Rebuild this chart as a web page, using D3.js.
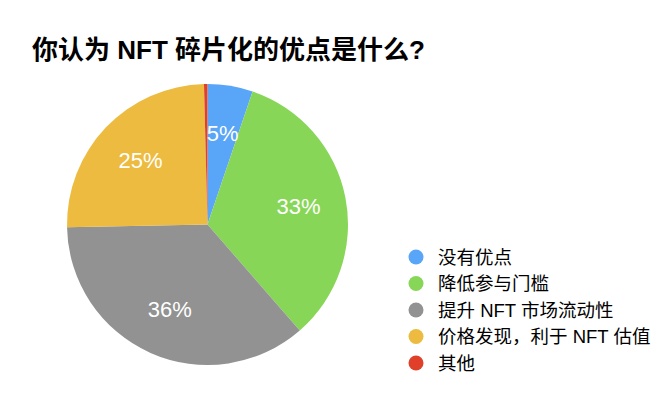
<!DOCTYPE html>
<html>
<head>
<meta charset="utf-8">
<script src="https://cdn.jsdelivr.net/npm/d3@7"></script>
<style>
  body { margin: 0; background: #fff; }
  svg { display: block; }
</style>
</head>
<body>
<div id="wrapper"></div>
<script>
const title = "你认为 NFT 碎片化的优点是什么?";
const categories = ["没有优点", "降低参与门槛", "提升 NFT 市场流动性", "价格发现，利于 NFT 估值", "其他"];
const values = [5.2, 33.4, 36.1, 24.9, 0.4];
const labels = ["5%", "33%", "36%", "25%", ""];
const colors = ["#59a5f7", "#88d658", "#929292", "#ecbb3f", "#e0402a"];

const width = 670;
const height = 412;
const font = "'Liberation Sans', Arial, 'Noto Sans CJK SC', sans-serif";

const svg = d3.select("#wrapper")
  .append("svg")
  .attr("width", width)
  .attr("height", height);

svg.append("text")
  .attr("x", 32)
  .attr("y", 59)
  .attr("font-family", font)
  .attr("font-size", 26)
  .attr("font-weight", "bold")
  .attr("fill", "#000")
  .text(title);

const cx = 207.5, cy = 224.5, radius = 140.5;

const pie = d3.pie().sort(null).value((d) => d.value);
const arcs = pie(categories.map((c, i) => ({ name: c, value: values[i], label: labels[i], color: colors[i] })));

const arc = d3.arc().innerRadius(0).outerRadius(radius);
const labelArc = d3.arc().innerRadius(radius * 0.66).outerRadius(radius * 0.66);

const pieG = svg.append("g").attr("transform", `translate(${cx},${cy})`);

pieG.selectAll("path")
  .data(arcs)
  .enter()
  .append("path")
  .attr("d", arc)
  .attr("fill", (d) => d.data.color);

pieG.selectAll("text")
  .data(arcs)
  .enter()
  .append("text")
  .attr("transform", (d) => `translate(${labelArc.centroid(d)})`)
  .attr("text-anchor", "middle")
  .attr("dy", "0.36em")
  .attr("font-family", font)
  .attr("font-size", 22)
  .attr("fill", "#fff")
  .text((d) => d.data.label);

// legend
const legendY = d3.scalePoint()
  .domain(categories)
  .range([257, 363]);

const legend = svg.append("g");
const rows = legend.selectAll("g")
  .data(categories)
  .enter()
  .append("g")
  .attr("transform", (d) => `translate(416,${legendY(d)})`);

rows.append("circle")
  .attr("r", 7.5)
  .attr("fill", (d, i) => colors[i]);

rows.append("text")
  .attr("x", 22)
  .attr("dy", "0.36em")
  .attr("font-family", font)
  .attr("font-size", 18.5)
  .attr("fill", "#000")
  .text((d) => d);
</script>
</body>
</html>
